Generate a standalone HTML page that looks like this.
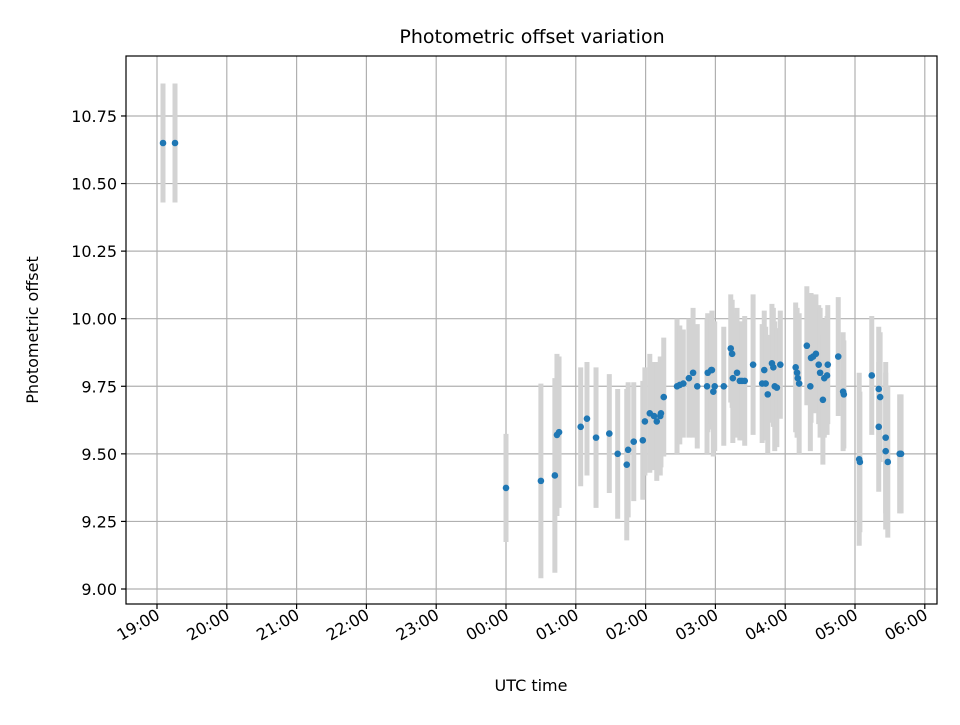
<!DOCTYPE html>
<html><head><meta charset="utf-8"><style>
body{margin:0;background:#fff;}
svg text{font-family:"DejaVu Sans","Liberation Sans",sans-serif;fill:#000;}
</style></head><body>
<svg id="chart" width="960" height="720" xmlns="http://www.w3.org/2000/svg">
<rect width="960" height="720" fill="#fff"/>
<g id="grid"></g>
<g id="bars"></g>
<g id="dots"></g>
<rect x="126" y="56" width="811" height="548" fill="none" stroke="#000" stroke-width="1.2"/>
<g id="ticks"></g>
<text x="532" y="43" text-anchor="middle" font-size="19">Photometric offset variation</text>
<text x="531" y="691" text-anchor="middle" font-size="16">UTC time</text>
<text transform="translate(38,330) rotate(-90)" text-anchor="middle" font-size="16">Photometric offset</text>
</svg>
<script>
// hours relative to 00:00 UTC
const times=[-4.914,-4.742,0,0.50,0.70,0.73,0.76,1.07,1.16,1.29,1.48,1.60,1.73,1.75,1.83,1.96,1.99,2.06,2.12,2.16,2.21,2.22,2.26,2.45,2.49,2.54,2.62,2.68,2.74,2.88,2.89,2.95,2.94,2.97,2.99,3.12,3.22,3.24,3.25,3.31,3.35,3.38,3.42,3.54,3.67,3.70,3.72,3.75,3.81,3.83,3.85,3.88,3.93,4.15,4.17,4.18,4.20,4.31,4.36,4.37,4.40,4.44,4.48,4.50,4.54,4.56,4.60,4.61,4.76,4.83,4.84,5.06,5.07,5.24,5.34,5.36,5.34,5.44,5.44,5.47,5.64,5.66];
const offsets=[10.65,10.65,9.374,9.40,9.42,9.57,9.58,9.60,9.63,9.56,9.575,9.50,9.46,9.515,9.545,9.55,9.62,9.65,9.64,9.62,9.64,9.65,9.71,9.75,9.755,9.76,9.78,9.80,9.75,9.75,9.80,9.81,9.81,9.73,9.75,9.75,9.89,9.87,9.78,9.80,9.77,9.77,9.77,9.83,9.76,9.81,9.76,9.72,9.835,9.82,9.75,9.745,9.83,9.82,9.80,9.78,9.76,9.90,9.75,9.855,9.86,9.87,9.83,9.80,9.70,9.78,9.79,9.83,9.86,9.73,9.72,9.48,9.47,9.79,9.74,9.71,9.60,9.56,9.51,9.47,9.50,9.50];
const errors=[0.22,0.22,0.2,0.36,0.36,0.3,0.28,0.22,0.21,0.26,0.22,0.24,0.28,0.25,0.22,0.22,0.2,0.22,0.2,0.22,0.22,0.2,0.22,0.25,0.22,0.2,0.22,0.24,0.23,0.25,0.22,0.22,0.2,0.24,0.24,0.22,0.2,0.2,0.24,0.24,0.22,0.22,0.24,0.26,0.22,0.22,0.21,0.22,0.22,0.22,0.24,0.22,0.2,0.24,0.24,0.22,0.26,0.22,0.24,0.24,0.2,0.22,0.22,0.24,0.24,0.22,0.22,0.22,0.22,0.22,0.2,0.32,0.26,0.22,0.23,0.24,0.24,0.28,0.29,0.28,0.22,0.22];
const xTickHours=[-5,-4,-3,-2,-1,0,1,2,3,4,5,6];
const xTickLabels=["19:00","20:00","21:00","22:00","23:00","00:00","01:00","02:00","03:00","04:00","05:00","06:00"];
const yTickValues=[9.0,9.25,9.5,9.75,10.0,10.25,10.5,10.75];
const yTickLabels=["9.00","9.25","9.50","9.75","10.00","10.25","10.50","10.75"];

const NS="http://www.w3.org/2000/svg";
const X0=126,X1=937,Y0=56,Y1=604;
function xs(h){return 506+h*69.8;}
function ys(v){return 589-(v-9)*270.3;}
function mk(tag,attrs,parent){const e=document.createElementNS(NS,tag);for(const k in attrs)e.setAttribute(k,attrs[k]);parent.appendChild(e);return e;}
const grid=document.getElementById('grid'),ticks=document.getElementById('ticks'),bars=document.getElementById('bars'),dots=document.getElementById('dots');
xTickHours.forEach((h,i)=>{
  const x=xs(h);
  const g=mk('line',{x1:x,x2:x,y1:Y0,y2:Y1,stroke:'#b0b0b0','stroke-width':1.2},grid);
  
  
  const t=mk('line',{x1:x,x2:x,y1:Y1,y2:Y1+5,stroke:'#000','stroke-width':1.2},ticks);
  
  
  const l=mk('text',{x:x+4,y:Y1+14,'font-size':16,'text-anchor':'end',transform:`rotate(-30 ${x+4} ${Y1+14})`},ticks);
  
  
  l.textContent=xTickLabels[i];
});
yTickValues.forEach((v,i)=>{
  const y=ys(v);
  const g=mk('line',{x1:X0,x2:X1,y1:y,y2:y,stroke:'#b0b0b0','stroke-width':1.2},grid);
  
  
  const t=mk('line',{x1:X0-5,x2:X0,y1:y,y2:y,stroke:'#000','stroke-width':1.2},ticks);
  
  
  const l=mk('text',{x:X0-9,y:y+6,'font-size':16,'text-anchor':'end'},ticks);
  
  
  l.textContent=yTickLabels[i];
});
times.forEach((h,i)=>{
  const x=xs(h);
  const b=mk('line',{x1:x,x2:x,y1:ys(offsets[i]+errors[i]),y2:ys(offsets[i]-errors[i]),stroke:'#d3d3d3','stroke-width':5},bars);
  
  
});
times.forEach((h,i)=>{
  const c=mk('circle',{cx:xs(h),cy:ys(offsets[i]),r:3.3,fill:'#1f77b4'},dots);
  
  
});
</script>
</body></html>
